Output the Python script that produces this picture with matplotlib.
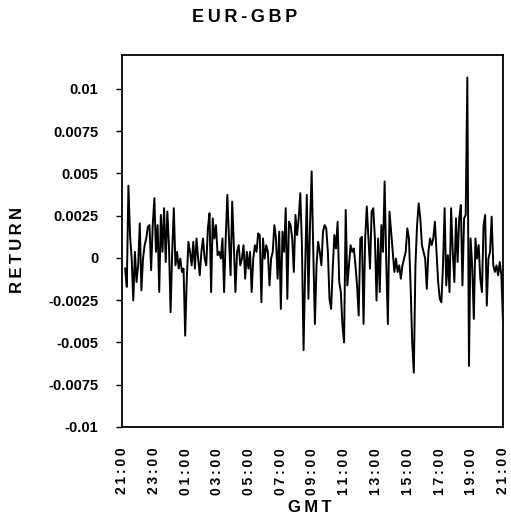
import numpy as np
import matplotlib
matplotlib.use("Agg")
import matplotlib.pyplot as plt
import matplotlib.transforms as mtransforms

# EUR-GBP intraday returns (units of 1e-4)
seg1 = [-6.3, -17.1, 42.7, 13.5, -0.4, -25.2, 3.6, -14.3, -4.4, 20.4, -19.2, -0.4, 7.5, 11.5,
        18.5, 19.4, -7.3, 19.4, 35.3, 3.6, 19.4, -20.2, 25.4, 3.6, 29.4, -2.4, 27.4, 7.5,
        -32.1, 3.6, 29.4, -4.4, 3.6, -6.3, -0.4, -8.3, -6.3, -46.0, -12.3, 9.5, 3.6, -4.4,
        9.5, -6.3, 11.5, -0.4, -10.3, 3.6, 11.5, -0.4, -4.4, 17.5, 26.4, -20.2, 23.4, 11.5,
        19.4, 1.6, 3.6, -0.4, 11.5, -20.2, 11.5, 37.3, 11.5, -10.3, 33.3, 7.5, -20.2, 3.6,
        7.5, -4.4]
seg2 = [-0.4, 7.5, -12.3, 3.6, -6.3, 3.6, -20.2, -0.4, 7.5, 3.6, 14.5, 13.5, -26.2, 11.5,
        -0.4, 7.5, 3.6, -16.3, -0.4, 3.6, 19.4, 11.5, -12.3, 15.5, -30.2, 15.5, 3.6, 29.4,
        -24.2, 21.4, 19.4, 11.5, -8.3, 25.4, 13.5, 23.4, 38.3, 7.5, -54.6, -6.3, 37.3, -24.2,
        19.4, 51.2, 3.6, -39.1, -4.4, 9.5, 3.6, -4.4, 15.5, 19.4, 17.5, 3.6, -24.2, -30.2,
        -6.3, 13.5, 5.6, 21.4, -14.3, -20.2, -40.1, -50.0, 28.4, -16.3, -4.4, 7.5, 3.6, 5.6,
        -4.4, -16.3, -34.1, 11.5, 12.5, -39.1, 11.5, 30.4]
seg3 = [11.5, -6.3, 27.4, 29.4, 11.5, -25.2, 11.5, -20.2, 19.4, 3.6, 45.2, -2.4, -39.1, 27.4,
        15.5, 3.6, -8.3, -0.4, -8.3, -4.4, -12.3, -4.4, -0.4, 3.6, 17.5, 11.5, -16.3, -50.0,
        -67.9, -4.4, 19.4, 32.3, 23.4, 7.5, 3.6, -0.4, -18.3, 3.6, 11.5, 7.5, 11.5, 21.4,
        3.6, -14.3, -24.2, -26.2, -4.4, 29.4, -16.3, 1.6, -20.2, 29.4, 3.6, -14.3, 23.4,
        -2.4, 23.4, 31.3, -16.3, 23.4, 25.4, 106.7, -63.9, 11.5, -4.4, -36.1, 11.5, -0.4,
        7.5, -12.3, -20.2, 19.4, 25.4, -28.2, -0.4, 3.6, 24.4, -4.4, -8.3, -4.4, -10.3,
        -2.4, -10.3, -38.1]
returns = np.array(seg1 + seg2 + seg3) * 1e-4

x_ticklabels = ["21:00", "23:00", "01:00", "03:00", "05:00", "07:00", "09:00",
                "11:00", "13:00", "15:00", "17:00", "19:00", "21:00"]
y_ticks = [-0.01, -0.0075, -0.005, -0.0025, 0, 0.0025, 0.005, 0.0075, 0.01]
y_ticklabels = ["-0.01", "-0.0075", "-0.005", "-0.0025", "0", "0.0025", "0.005", "0.0075", "0.01"]

FONT = ["Liberation Sans", "DejaVu Sans"]
plt.rcParams["font.family"] = FONT

def spaced(s):
    return "\u2009".join(s)

W, H = 511, 521
fig = plt.figure(figsize=(W / 100, H / 100), dpi=100)
ax = fig.add_axes([122 / W, 1 - 427 / H, (503 - 122) / W, (427 - 55) / H])

hours = np.linspace(0.2, 24, len(returns))
ax.plot(hours, returns, color="black", lw=1.4)

ax.set_xlim(0, 24)
ax.set_ylim(-0.01, 0.012)
ax.set_xticks(np.arange(0, 25, 2))
ax.set_xticklabels([spaced(s) for s in x_ticklabels], rotation=90, fontsize=10,
                   fontweight="bold", va="top", ha="center")
shift = mtransforms.ScaledTranslation(-4 / 100, 0, fig.dpi_scale_trans)
for lab in ax.get_xticklabels():
    lab.set_transform(lab.get_transform() + shift)
ax.set_yticks(y_ticks)
ax.set_yticklabels(y_ticklabels, fontsize=10.5, fontweight="bold")
ax.tick_params(axis="x", length=0, pad=15)
ax.tick_params(axis="y", direction="out", length=4, width=1, pad=13)
for sp in ax.spines.values():
    sp.set_linewidth(1.3)

fig.text(245 / W, 1 - 18 / H, spaced("EUR-GBP"), ha="center", va="center",
         fontsize=13, fontweight="bold")
fig.text(18 / W, 1 - 250 / H, spaced("RETURN"), ha="center", va="center",
         rotation=90, fontsize=12, fontweight="bold")
fig.text(310 / W, 1 - 508 / H, spaced("GMT"), ha="center", va="center",
         fontsize=12, fontweight="bold")

fig.savefig("out.png", dpi=100)
